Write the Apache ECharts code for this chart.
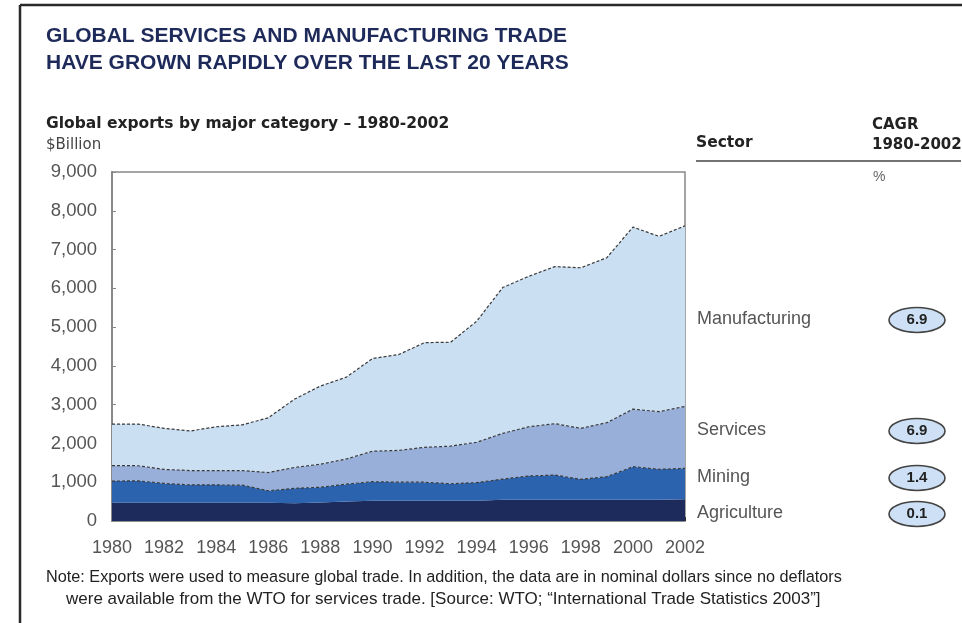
<!DOCTYPE html>
<html>
<head>
<meta charset="utf-8">
<script src="https://cdn.jsdelivr.net/npm/echarts@6/dist/echarts.min.js"></script>
<style>
html,body{margin:0;padding:0;background:#fff;}
#chart{width:962px;height:623px;}
</style>
</head>
<body>
<div id="chart"></div>
<script>
var years = ['1980','1981','1982','1983','1984','1985','1986','1987','1988','1989','1990','1991','1992','1993','1994','1995','1996','1997','1998','1999','2000','2001','2002'];
var agriculture = [470,470,470,470,470,470,470,460,475,500,520,520,520,520,520,550,550,550,550,550,550,550,560];
var mining = [560,565,500,460,460,455,310,382,395,450,494,480,480,440,470,530,610,635,525,593,850,783,798];
var services = [400,390,360,370,370,375,470,538,595,650,786,820,900,970,1040,1180,1270,1325,1315,1392,1485,1487,1597];
var manufacturing = [1070,1075,1060,1020,1130,1180,1410,1760,2015,2110,2390,2470,2700,2680,3120,3760,3880,4050,4140,4255,4695,4520,4655];
var sectorNames = ['Manufacturing','Services','Mining','Agriculture'];
var cagr = ['6.9','6.9','1.4','0.1'];
var yTicks = [0,1000,2000,3000,4000,5000,6000,7000,8000,9000];

var FONT = '"Liberation Sans", Arial, sans-serif';
var WIDE = '"DejaVu Sans", sans-serif';
var chart = echarts.init(document.getElementById('chart'), null, {renderer:'canvas'});

var dashed = {type:[3,2], width:1.2, color:'#3a3a3a'};
function mk(name, data, color, line){
  return {
    name:name, type:'line', stack:'total', data:data, symbol:'none',
    lineStyle: line, areaStyle:{color:color, opacity:1}, itemStyle:{color:color},
    emphasis:{disabled:true}
  };
}

var labelY = [320, 431, 478, 514];
var graphics = [
  {type:'line', shape:{x1:20,y1:5,x2:962,y2:5}, style:{stroke:'#2a2a2a', lineWidth:2.5}},
  {type:'line', shape:{x1:20,y1:5,x2:20,y2:623}, style:{stroke:'#2a2a2a', lineWidth:2.5}},
  {type:'text', left:46, top:23, style:{text:'GLOBAL SERVICES AND MANUFACTURING TRADE\nHAVE GROWN RAPIDLY OVER THE LAST 20 YEARS', fill:'#1e2a5a', font:'bold 21px '+FONT, lineHeight:27}},
  {type:'text', left:46, top:116, style:{text:'Global exports by major category \u2013 1980-2002', fill:'#222', font:'bold 15.5px '+WIDE}},
  {type:'text', left:46, top:138, style:{text:'$Billion', fill:'#444', font:'15px '+WIDE}},
  {type:'text', left:696, top:135, style:{text:'Sector', fill:'#222', font:'bold 15.5px '+WIDE}},
  {type:'text', left:872, top:115, style:{text:'CAGR\n1980-2002', fill:'#222', font:'bold 15px '+WIDE, lineHeight:20}},
  {type:'line', shape:{x1:696,y1:161,x2:961,y2:161}, style:{stroke:'#444', lineWidth:1.5}},
  {type:'text', left:873, top:170, style:{text:'%', fill:'#666', font:'14px '+FONT}},
  {type:'text', left:46, top:570, style:{text:'Note: Exports were used to measure global trade. In addition, the data are in nominal dollars since no deflators', fill:'#222', font:'16.25px '+FONT}},
  {type:'text', left:66, top:591, style:{text:'were available from the WTO for services trade. [Source: WTO; \u201cInternational Trade Statistics 2003\u201d]', fill:'#222', font:'17px '+FONT}}
];
for (var i=0;i<sectorNames.length;i++){
  graphics.push({type:'text', left:697, top:labelY[i]-10, style:{text:sectorNames[i], fill:'#555', font:'18px '+FONT}});
  graphics.push({type:'ellipse', shape:{cx:917, cy:labelY[i], rx:28, ry:12.5}, style:{fill:'#cde0f5', stroke:'#444', lineWidth:1.6}});
  graphics.push({type:'text', x:917, y:labelY[i], style:{text:cagr[i], fill:'#222', font:'bold 15px '+FONT, align:'center', verticalAlign:'middle'}});
}

chart.setOption({
  animation:false,
  backgroundColor:'#fff',
  grid:{left:112, right:277, top:172, bottom:102, show:true, borderColor:'#888', borderWidth:1.5, backgroundColor:'transparent'},
  xAxis:{
    type:'category', data:years, boundaryGap:false,
    axisLine:{show:true, lineStyle:{color:'#888', width:1.5}},
    axisTick:{show:true, inside:true, length:4, interval:0, lineStyle:{color:'#333'}},
    axisLabel:{interval:1, color:'#555', fontSize:18, fontFamily:FONT, margin:18},
    splitLine:{show:false}
  },
  yAxis:{
    type:'value', min:yTicks[0], max:yTicks[yTicks.length-1], interval:1000,
    axisLine:{show:true, lineStyle:{color:'#888', width:2}},
    axisTick:{show:true, inside:true, length:4, lineStyle:{color:'#888'}},
    axisLabel:{color:'#555', fontSize:18.5, fontFamily:FONT, margin:15,
      formatter:function(v){return v.toLocaleString('en-US');}},
    splitLine:{show:false}
  },
  series:[
    mk('Agriculture', agriculture, '#1c2b5c', {width:0}),
    mk('Mining', mining, '#2c63ae', dashed),
    mk('Services', services, '#97afd9', dashed),
    mk('Manufacturing', manufacturing, '#cbdff3', dashed)
  ],
  graphic:graphics
});
</script>
</body>
</html>
